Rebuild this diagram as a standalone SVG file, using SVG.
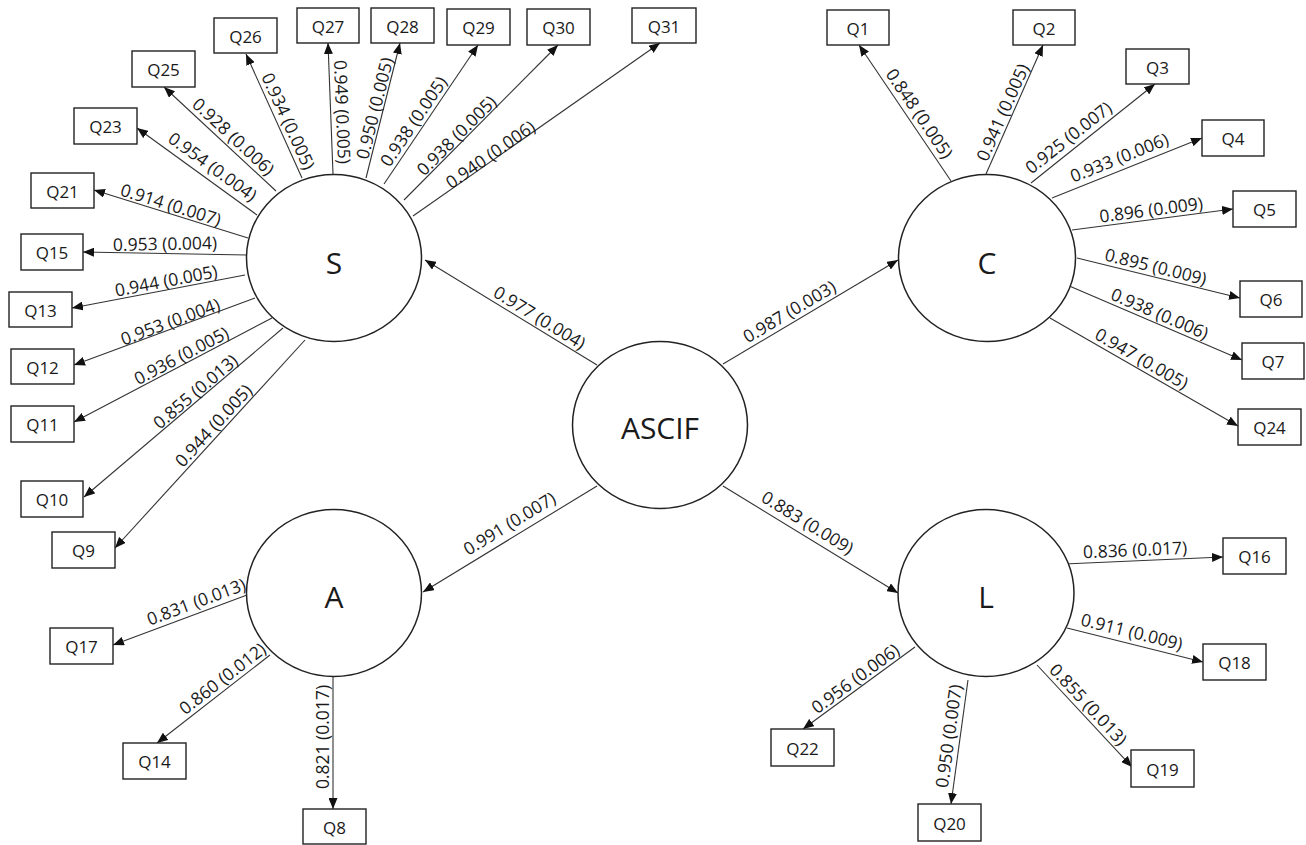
<svg xmlns="http://www.w3.org/2000/svg" width="1306" height="845" viewBox="0 0 1306 845">
<style>
.box{fill:#fff;stroke:#222;stroke-width:1.4}
.lat{fill:#fff;stroke:#222;stroke-width:1.5}
.edge{stroke:#333;stroke-width:1.1;fill:none;marker-end:url(#ah)}
.q{font-family:"Open Sans","Liberation Sans",sans-serif;font-size:17px;text-anchor:middle;dominant-baseline:central;fill:#1a1a1a}
.n{font-family:"Open Sans","Liberation Sans",sans-serif;font-size:30px;text-anchor:middle;dominant-baseline:central;fill:#1a1a1a}
.el{font-family:"Open Sans","Liberation Sans",sans-serif;font-size:17.5px;text-anchor:middle;dominant-baseline:central;fill:#1a1a1a}
</style>
<defs>
<marker id="ah" markerUnits="userSpaceOnUse" markerWidth="11" markerHeight="9" refX="11" refY="4.5" orient="auto">
<path d="M0,0 L11,4.5 L0,9 z" fill="#111"/>
</marker>
</defs>
<rect width="1306" height="845" fill="#fff"/>
<g id="connectors">
<line class="edge" x1="597" y1="365" x2="425" y2="260"/>
<line class="edge" x1="723" y1="364" x2="898" y2="260"/>
<line class="edge" x1="597" y1="486" x2="423" y2="592"/>
<line class="edge" x1="723" y1="486" x2="898" y2="593"/>
<line class="edge" x1="302" y1="178" x2="246" y2="54"/>
<line class="edge" x1="276" y1="191" x2="164" y2="87"/>
<line class="edge" x1="257" y1="215" x2="137" y2="128"/>
<line class="edge" x1="248" y1="238" x2="94" y2="190"/>
<line class="edge" x1="247" y1="255" x2="83" y2="252"/>
<line class="edge" x1="333" y1="174" x2="328" y2="43"/>
<line class="edge" x1="366" y1="178" x2="400" y2="43"/>
<line class="edge" x1="384" y1="184" x2="478" y2="45"/>
<line class="edge" x1="404" y1="200" x2="558" y2="45"/>
<line class="edge" x1="413" y1="216" x2="660" y2="43"/>
<line class="edge" x1="245" y1="275" x2="72" y2="308"/>
<line class="edge" x1="255" y1="298" x2="74" y2="365"/>
<line class="edge" x1="272" y1="318" x2="74" y2="422"/>
<line class="edge" x1="283" y1="328" x2="84" y2="497"/>
<line class="edge" x1="305" y1="340" x2="115" y2="548"/>
<line class="edge" x1="247" y1="595" x2="113" y2="645"/>
<line class="edge" x1="270" y1="655" x2="157" y2="743"/>
<line class="edge" x1="333" y1="677" x2="333" y2="809"/>
<line class="edge" x1="951" y1="181" x2="859" y2="45"/>
<line class="edge" x1="986" y1="174" x2="1043" y2="45"/>
<line class="edge" x1="1031" y1="183" x2="1155" y2="84"/>
<line class="edge" x1="1052" y1="198" x2="1202" y2="138"/>
<line class="edge" x1="1072" y1="230" x2="1233" y2="209"/>
<line class="edge" x1="1077" y1="258" x2="1240" y2="298"/>
<line class="edge" x1="1067" y1="285" x2="1242" y2="360"/>
<line class="edge" x1="1050" y1="318" x2="1238" y2="426"/>
<line class="edge" x1="1064" y1="564" x2="1223" y2="557"/>
<line class="edge" x1="1067" y1="628" x2="1203" y2="662"/>
<line class="edge" x1="915" y1="647" x2="803" y2="729"/>
<line class="edge" x1="968" y1="680" x2="951" y2="804"/>
<line class="edge" x1="1037" y1="665" x2="1132" y2="767"/>
<g id="edge-labels">
<text class="el" transform="translate(540,317) rotate(31.4)">0.977 (0.004)</text>
<text class="el" transform="translate(789,311) rotate(-30.7)">0.987 (0.003)</text>
<text class="el" transform="translate(509,523) rotate(-31.3)">0.991 (0.007)</text>
<text class="el" transform="translate(808,522) rotate(31.4)">0.883 (0.009)</text>
<text class="el" transform="translate(289,121) rotate(65.5)">0.934 (0.005)</text>
<text class="el" transform="translate(234,136) rotate(42.9)">0.928 (0.006)</text>
<text class="el" transform="translate(213,166) rotate(35.9)">0.954 (0.004)</text>
<text class="el" transform="translate(171,204) rotate(17.3)">0.914 (0.007)</text>
<text class="el" transform="translate(165,243) rotate(-1)">0.953 (0.004)</text>
<text class="el" transform="translate(343,112) rotate(87.8)">0.949 (0.005)</text>
<text class="el" transform="translate(374,108) rotate(-75.9)">0.950 (0.005)</text>
<text class="el" transform="translate(413,121) rotate(-55.9)">0.938 (0.005)</text>
<text class="el" transform="translate(456,135) rotate(-45.2)">0.938 (0.005)</text>
<text class="el" transform="translate(490,154) rotate(-35)">0.940 (0.006)</text>
<text class="el" transform="translate(166,280) rotate(-10.9)">0.944 (0.005)</text>
<text class="el" transform="translate(170,321) rotate(-20.3)">0.953 (0.004)</text>
<text class="el" transform="translate(181,355) rotate(-27.7)">0.936 (0.005)</text>
<text class="el" transform="translate(195,391) rotate(-40.3)">0.855 (0.013)</text>
<text class="el" transform="translate(213,425) rotate(-47.6)">0.944 (0.005)</text>
<text class="el" transform="translate(196,601) rotate(-20.5)">0.831 (0.013)</text>
<text class="el" transform="translate(222,678) rotate(-37.9)">0.860 (0.012)</text>
<text class="el" transform="translate(322,737) rotate(-90)">0.821 (0.017)</text>
<text class="el" transform="translate(920,113) rotate(55.7)">0.848 (0.005)</text>
<text class="el" transform="translate(1002,112) rotate(-66)">0.941 (0.005)</text>
<text class="el" transform="translate(1068,137) rotate(-38.3)">0.925 (0.007)</text>
<text class="el" transform="translate(1119,157) rotate(-21.8)">0.933 (0.006)</text>
<text class="el" transform="translate(1151,209) rotate(-7.4)">0.896 (0.009)</text>
<text class="el" transform="translate(1156,266) rotate(13.9)">0.895 (0.009)</text>
<text class="el" transform="translate(1160,313) rotate(23.2)">0.938 (0.006)</text>
<text class="el" transform="translate(1142,358) rotate(29.9)">0.947 (0.005)</text>
<text class="el" transform="translate(1135,549) rotate(-2.5)">0.836 (0.017)</text>
<text class="el" transform="translate(1132,631) rotate(14)">0.911 (0.009)</text>
<text class="el" transform="translate(855,678) rotate(-36.5)">0.956 (0.006)</text>
<text class="el" transform="translate(948,736) rotate(-82.2)">0.950 (0.007)</text>
<text class="el" transform="translate(1089,704) rotate(47)">0.855 (0.013)</text>
</g>
</g>
<g id="ASCIF"><ellipse class="lat" cx="660" cy="425" rx="87.5" ry="83.5"/><text class="n" x="660" y="427">ASCIF</text></g>
<g id="S"><ellipse class="lat" cx="334" cy="258" rx="87.5" ry="83.5"/><text class="n" x="334" y="262">S</text></g>
<g id="C"><ellipse class="lat" cx="987" cy="258" rx="88.5" ry="83.5"/><text class="n" x="987" y="262">C</text></g>
<g id="A"><ellipse class="lat" cx="334" cy="593" rx="87.5" ry="83.5"/><text class="n" x="334" y="596">A</text></g>
<g id="L"><ellipse class="lat" cx="986" cy="593" rx="88" ry="83.5"/><text class="n" x="986" y="596">L</text></g>
<g id="Q1"><rect class="box" x="827" y="10" width="62" height="35"/><text class="q" x="858" y="28">Q1</text></g>
<g id="Q2"><rect class="box" x="1013" y="10" width="62" height="35"/><text class="q" x="1044" y="28">Q2</text></g>
<g id="Q3"><rect class="box" x="1126" y="49" width="63" height="35"/><text class="q" x="1157.5" y="67">Q3</text></g>
<g id="Q4"><rect class="box" x="1202" y="120" width="62" height="36"/><text class="q" x="1233" y="138.5">Q4</text></g>
<g id="Q5"><rect class="box" x="1233" y="191" width="63" height="36"/><text class="q" x="1264.5" y="209.5">Q5</text></g>
<g id="Q6"><rect class="box" x="1240" y="281" width="62" height="36"/><text class="q" x="1271" y="299.5">Q6</text></g>
<g id="Q7"><rect class="box" x="1242" y="343" width="62" height="36"/><text class="q" x="1273" y="361.5">Q7</text></g>
<g id="Q24"><rect class="box" x="1238" y="409" width="63" height="36"/><text class="q" x="1269.5" y="427.5">Q24</text></g>
<g id="Q16"><rect class="box" x="1223" y="538" width="63" height="36"/><text class="q" x="1254.5" y="556.5">Q16</text></g>
<g id="Q18"><rect class="box" x="1203" y="644" width="63" height="36"/><text class="q" x="1234.5" y="662.5">Q18</text></g>
<g id="Q19"><rect class="box" x="1131" y="750" width="63" height="37"/><text class="q" x="1162.5" y="769">Q19</text></g>
<g id="Q20"><rect class="box" x="918" y="804" width="63" height="37"/><text class="q" x="949.5" y="823">Q20</text></g>
<g id="Q22"><rect class="box" x="771" y="729" width="63" height="37"/><text class="q" x="802.5" y="748">Q22</text></g>
<g id="Q8"><rect class="box" x="303" y="809" width="63" height="35"/><text class="q" x="334.5" y="827">Q8</text></g>
<g id="Q14"><rect class="box" x="123" y="743" width="63" height="36"/><text class="q" x="154.5" y="761.5">Q14</text></g>
<g id="Q17"><rect class="box" x="50" y="628" width="63" height="36"/><text class="q" x="81.5" y="646.5">Q17</text></g>
<g id="Q9"><rect class="box" x="52" y="532" width="63" height="36"/><text class="q" x="83.5" y="550.5">Q9</text></g>
<g id="Q10"><rect class="box" x="21" y="481" width="62" height="36"/><text class="q" x="52" y="499.5">Q10</text></g>
<g id="Q11"><rect class="box" x="11" y="406" width="63" height="36"/><text class="q" x="42.5" y="424.5">Q11</text></g>
<g id="Q12"><rect class="box" x="11" y="349" width="63" height="35"/><text class="q" x="42.5" y="367">Q12</text></g>
<g id="Q13"><rect class="box" x="9" y="292" width="63" height="35"/><text class="q" x="40.5" y="310">Q13</text></g>
<g id="Q15"><rect class="box" x="21" y="234" width="62" height="36"/><text class="q" x="52" y="252.5">Q15</text></g>
<g id="Q21"><rect class="box" x="31" y="173" width="63" height="35"/><text class="q" x="62.5" y="191">Q21</text></g>
<g id="Q23"><rect class="box" x="74" y="108" width="63" height="36"/><text class="q" x="105.5" y="126.5">Q23</text></g>
<g id="Q25"><rect class="box" x="132" y="51" width="63" height="36"/><text class="q" x="163.5" y="69.5">Q25</text></g>
<g id="Q26"><rect class="box" x="214" y="18" width="63" height="35"/><text class="q" x="245.5" y="36">Q26</text></g>
<g id="Q27"><rect class="box" x="297" y="8" width="62" height="35"/><text class="q" x="328" y="26">Q27</text></g>
<g id="Q28"><rect class="box" x="371" y="8" width="63" height="35"/><text class="q" x="402.5" y="26">Q28</text></g>
<g id="Q29"><rect class="box" x="447" y="9" width="63" height="36"/><text class="q" x="478.5" y="27.5">Q29</text></g>
<g id="Q30"><rect class="box" x="527" y="9" width="63" height="36"/><text class="q" x="558.5" y="27.5">Q30</text></g>
<g id="Q31"><rect class="box" x="632" y="8" width="64" height="35"/><text class="q" x="664" y="26">Q31</text></g>
</svg>
